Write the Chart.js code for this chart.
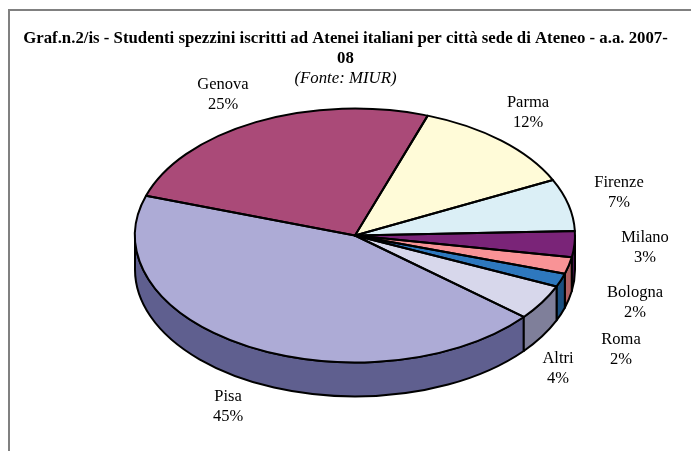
<!DOCTYPE html>
<html>
<head>
<meta charset="utf-8">
<style>
    html, body { margin: 0; padding: 0; background: #fff; }
    canvas { display: block; }
</style>
<script src="https://cdn.jsdelivr.net/npm/chart.js@4"></script>
</head>
<body>
<canvas id="chart" width="691" height="451"></canvas>
<script>
const cities = ['Pisa', 'Genova', 'Parma', 'Firenze', 'Milano', 'Bologna', 'Roma', 'Altri'];
const shares = [43.8, 25.2, 12.4, 6.6, 3.3, 2.1, 1.7, 4.5];
const shareLabels = ['45%', '25%', '12%', '7%', '3%', '2%', '2%', '4%'];

const titleLines = ['Graf.n.2/is - Studenti spezzini iscritti ad Atenei italiani per città sede di Ateneo - a.a. 2007-', '08'];
const sourceLine = '(Fonte: MIUR)';

// Styles
const topColors = ['#ADABD6', '#AA4A78', '#FFFBD8', '#DBEFF6', '#7A2478', '#F99396', '#2E78BE', '#D7D7EB'];
const sideColors = ['#5F5F8F', '#6A2A4A', '#99977F', '#83909A', '#45124A', '#B06062', '#1A4F7F', '#7F7F9A'];
const labelCenters = [[228, 407], [223, 95], [528, 113], [619, 193], [645, 248], [635, 303], [621, 350], [558, 369]];

const PIE = { cx: 355, cy: 235.5, rx: 220, ry: 127, depth: 34 };

const piePerspective = {
    id: 'piePerspective',
    beforeDraw(chart) {
        // frame of the original picture: only top and left edges are visible
        const ctx = chart.ctx;
        ctx.save();
        ctx.strokeStyle = '#808080';
        ctx.lineWidth = 2;
        ctx.beginPath();
        ctx.moveTo(9, 451);
        ctx.lineTo(9, 10);
        ctx.lineTo(691, 10);
        ctx.stroke();
        ctx.restore();
    },
    beforeDatasetsDraw(chart) {
        const ctx = chart.ctx;
        const arcs = chart.getDatasetMeta(0).data;
        const { cx, cy, rx, ry, depth } = PIE;

        // front wall of each slice, only the part facing the viewer
        ctx.save();
        ctx.lineWidth = 2;
        ctx.strokeStyle = '#000';
        ctx.lineJoin = 'round';
        arcs.forEach((arc, i) => {
            const p = arc.getProps(['startAngle', 'endAngle']);
            const norm = a => ((a % (2 * Math.PI)) + 2 * Math.PI) % (2 * Math.PI);
            let a0 = norm(p.startAngle);
            let a1 = a0 + (p.endAngle - p.startAngle);
            [[a0, a1], [a0 - 2 * Math.PI, a1 - 2 * Math.PI]].forEach(([s, e]) => {
                const from = Math.max(s, 0);
                const to = Math.min(e, Math.PI);
                if (to <= from) return;
                ctx.beginPath();
                ctx.ellipse(cx, cy, rx, ry, 0, from, to);
                ctx.ellipse(cx, cy + depth, rx, ry, 0, to, from, true);
                ctx.closePath();
                ctx.fillStyle = sideColors[i];
                ctx.fill();
                ctx.stroke();
            });
        });
        ctx.restore();

        // library draws the top face, squeezed into the ellipse
        const first = arcs[0];
        ctx.save();
        ctx.translate(cx, cy);
        ctx.scale(rx / first.outerRadius, ry / first.outerRadius);
        ctx.translate(-first.x, -first.y);
    },
    afterDatasetsDraw(chart) {
        const ctx = chart.ctx;
        ctx.restore();

        const arcs = chart.getDatasetMeta(0).data;
        const { cx, cy, rx, ry } = PIE;

        // outlines kept at an even width
        ctx.save();
        ctx.lineWidth = 2;
        ctx.strokeStyle = '#000';
        ctx.lineJoin = 'round';
        arcs.forEach(arc => {
            ctx.beginPath();
            ctx.moveTo(cx, cy);
            ctx.ellipse(cx, cy, rx, ry, 0, arc.startAngle, arc.endAngle);
            ctx.closePath();
            ctx.stroke();
        });

        ctx.fillStyle = '#000';
        ctx.font = '16.5px "Liberation Serif"';
        ctx.textAlign = 'center';
        ctx.textBaseline = 'middle';
        cities.forEach((city, i) => {
            const [x, y] = labelCenters[i];
            ctx.fillText(city, x, y - 10);
            ctx.fillText(shareLabels[i], x, y + 10);
        });
        ctx.restore();
    }
};

new Chart(document.getElementById('chart'), {
    type: 'pie',
    data: {
        labels: cities,
        datasets: [{
            data: shares,
            backgroundColor: topColors,
            borderWidth: 0
        }]
    },
    options: {
        responsive: false,
        animation: false,
        rotation: 129.9,
        layout: { padding: { top: 20 } },
        plugins: {
            legend: { display: false },
            tooltip: { enabled: false },
            title: {
                display: true,
                text: titleLines,
                color: '#000',
                font: { family: '"Liberation Serif"', size: 16.8, weight: 'bold', lineHeight: 1.18 },
                padding: { top: 9, bottom: 0 }
            },
            subtitle: {
                display: true,
                text: sourceLine,
                color: '#000',
                font: { family: '"Liberation Serif"', size: 16.8, style: 'italic', lineHeight: 1.18 },
                padding: { top: 0, bottom: 0 }
            }
        }
    },
    plugins: [piePerspective]
});
</script>
</body>
</html>
